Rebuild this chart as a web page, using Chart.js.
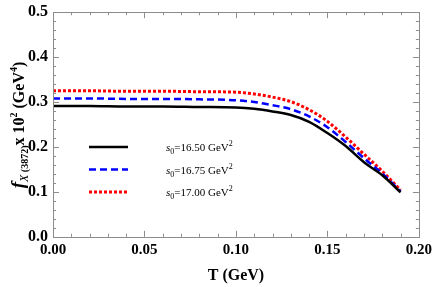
<!DOCTYPE html>
<html>
<head>
<meta charset="utf-8">
<script src="https://cdn.jsdelivr.net/npm/chart.js@4.4.1/dist/chart.umd.min.js"></script>
<style>
  html, body { margin: 0; padding: 0; background: #fff; }
  #wrap { width: 436px; height: 287px; position: relative; }
</style>
</head>
<body>
<div id="wrap"><canvas id="fChart"></canvas></div>
<script>
// temperature samples (GeV)
const temps = [0, 0.02, 0.04, 0.06, 0.08, 0.10, 0.11, 0.12, 0.13, 0.14, 0.15, 0.16, 0.17, 0.18, 0.19];
// decay constant x 10^2 for each threshold s0
const fS1650 = [0.291, 0.291, 0.290, 0.290, 0.289, 0.288, 0.285, 0.279, 0.271, 0.256, 0.231, 0.202, 0.166, 0.137, 0.099];
const fS1675 = [0.308, 0.308, 0.307, 0.307, 0.306, 0.304, 0.300, 0.293, 0.284, 0.268, 0.244, 0.211, 0.175, 0.141, 0.101];
const fS1700 = [0.325, 0.325, 0.324, 0.324, 0.323, 0.322, 0.318, 0.311, 0.301, 0.283, 0.257, 0.222, 0.184, 0.146, 0.104];
const legendValues = ["16.50", "16.75", "17.00"];
const xTicks = [0, 0.05, 0.10, 0.15, 0.20];
const yTicks = [0, 0.1, 0.2, 0.3, 0.4, 0.5];

const serif = "'Liberation Serif', 'Times New Roman', serif";

function toPoints(ys) {
    return temps.map((t, i) => ({ x: t, y: ys[i] }));
}

// frame with inward ticks on all four sides
const framePlugin = {
    id: "frame",
    afterDraw(chart) {
        const ctx = chart.ctx;
        const a = chart.chartArea;
        const xs = chart.scales.x;
        const ys = chart.scales.y;
        ctx.save();
        ctx.strokeStyle = "#8c8c8c";
        ctx.lineWidth = 1;
        ctx.strokeRect(Math.round(a.left) + 0.5, Math.round(a.top) + 0.5,
            Math.round(a.right - a.left), Math.round(a.bottom - a.top));
        ctx.beginPath();
        for (let i = 0; i <= 20; i++) {
            const px = Math.round(xs.getPixelForValue(i * 0.01)) + 0.5;
            const len = i % 5 === 0 ? 6 : 3;
            ctx.moveTo(px, a.bottom); ctx.lineTo(px, a.bottom - len);
            ctx.moveTo(px, a.top); ctx.lineTo(px, a.top + len);
        }
        for (let i = 0; i <= 25; i++) {
            const py = Math.round(ys.getPixelForValue(i * 0.02)) + 0.5;
            const len = i % 5 === 0 ? 6 : 3;
            ctx.moveTo(a.left, py); ctx.lineTo(a.left + len, py);
            ctx.moveTo(a.right, py); ctx.lineTo(a.right - len, py);
        }
        ctx.stroke();
        ctx.restore();
    }
};

// draws a run of text pieces: [text, font, dy]
function drawRich(ctx, parts, x, y) {
    let cx = x;
    parts.forEach(p => {
        ctx.font = p[1];
        ctx.fillText(p[0], cx, y + (p[2] || 0));
        cx += ctx.measureText(p[0]).width;
    });
    return cx - x;
}

function measureRich(ctx, parts) {
    let w = 0;
    parts.forEach(p => { ctx.font = p[1]; w += ctx.measureText(p[0]).width; });
    return w;
}

const labelPlugin = {
    id: "labels",
    afterDraw(chart) {
        const ctx = chart.ctx;
        ctx.save();
        ctx.fillStyle = "#000";
        ctx.textBaseline = "alphabetic";

        // y axis title
        const yParts = [
            ["f", "italic bold 19px " + serif, 0],
            ["X", "italic 12px " + serif, 4],
            [" (3872)", "bold 10px " + serif, 4],
            ["x 10", "bold 16px " + serif, 0],
            ["2", "bold 10px " + serif, -7],
            [" (GeV", "bold 16px " + serif, 0],
            ["4", "bold 10px " + serif, -7],
            [")", "bold 16px " + serif, 0]
        ];
        const w = measureRich(ctx, yParts);
        ctx.translate(24, 125);
        ctx.rotate(-Math.PI / 2);
        drawRich(ctx, yParts, -w / 2, 0);
        ctx.setTransform(1, 0, 0, 1, 0, 0);

        // legend
        const ds = chart.data.datasets;
        ds.forEach((d, i) => {
            const ly = 147 + i * 22.5;
            ctx.save();
            ctx.strokeStyle = d.borderColor;
            ctx.lineWidth = d.borderWidth;
            ctx.setLineDash(d.borderDash || []);
            ctx.beginPath();
            ctx.moveTo(89, ly);
            ctx.lineTo(128, ly);
            ctx.stroke();
            ctx.restore();
            drawRich(ctx, [
                ["s", "italic 11px " + serif, 0],
                ["0", "8px " + serif, 3],
                ["=" + legendValues[i] + " GeV", "11px " + serif, 0],
                ["2", "8px " + serif, -5]
            ], 166, ly + 4);
        });
        ctx.restore();
    }
};

const ctx = document.getElementById("fChart").getContext("2d");
new Chart(ctx, {
    type: "line",
    data: {
        datasets: [
            {
                label: "s0=16.50",
                data: toPoints(fS1650),
                borderColor: "#000000",
                borderWidth: 2.5
            },
            {
                label: "s0=16.75",
                data: toPoints(fS1675),
                borderColor: "#0000ff",
                borderWidth: 2.5,
                borderDash: [7, 4]
            },
            {
                label: "s0=17.00",
                data: toPoints(fS1700),
                borderColor: "#ff0000",
                borderWidth: 3,
                borderDash: [3, 2]
            }
        ]
    },
    options: {
        responsive: true,
        maintainAspectRatio: false,
        animation: false,
        elements: {
            point: { radius: 0 },
            line: { cubicInterpolationMode: "monotone", fill: false }
        },
        layout: {
            padding: { left: 23, right: 11, top: 5, bottom: 0 }
        },
        plugins: {
            legend: { display: false },
            tooltip: { enabled: false }
        },
        scales: {
            x: {
                type: "linear",
                min: 0,
                max: 0.2,
                afterBuildTicks: scale => {
                    scale.ticks = xTicks.map(v => ({ value: v }));
                },
                grid: { display: false, drawTicks: false },
                border: { display: false },
                ticks: {
                    color: "#000",
                    padding: 4,
                    maxRotation: 0,
                    font: { family: serif, weight: "bold", size: 15 },
                    callback: v => v.toFixed(2)
                },
                title: {
                    display: true,
                    text: "T (GeV)",
                    color: "#000",
                    padding: { top: 3, bottom: 2 },
                    font: { family: serif, weight: "bold", size: 16 }
                }
            },
            y: {
                min: 0,
                max: 0.5,
                afterBuildTicks: scale => {
                    scale.ticks = yTicks.map(v => ({ value: v }));
                },
                grid: { display: false, drawTicks: false },
                border: { display: false },
                ticks: {
                    color: "#000",
                    padding: 5,
                    font: { family: serif, weight: "bold", size: 16, lineHeight: 0.9 },
                    callback: v => v.toFixed(1)
                }
            }
        }
    },
    plugins: [framePlugin, labelPlugin]
});
</script>
</body>
</html>
